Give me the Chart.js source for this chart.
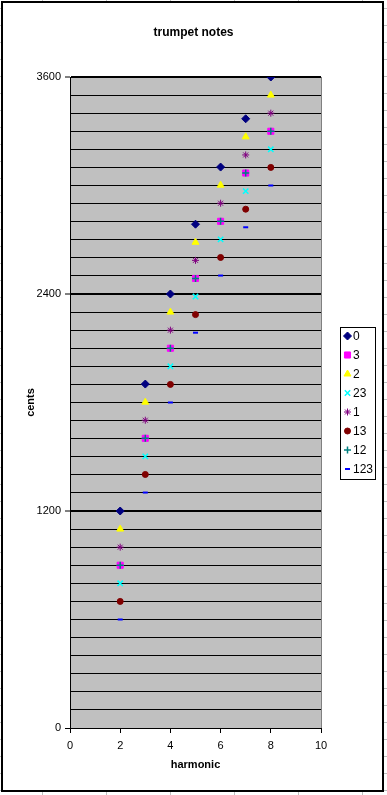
<!DOCTYPE html>
<html>
<head>
<meta charset="utf-8">
<script src="https://cdn.jsdelivr.net/npm/chart.js@4/dist/chart.umd.min.js"></script>
<style>
body { margin: 0; background: #fff; }
canvas { display: block; }
</style>
</head>
<body>
<canvas id="chart" width="387" height="795"></canvas>
<script>
// harmonic numbers on the x axis
const harmonics = [2, 3, 4, 5, 6, 7, 8];

// cents for each valve combination
const valveNames = ['0', '3', '2', '23', '1', '13', '12', '123'];
const cents0   = [1200, 1902, 2400, 2786, 3102, 3369, 3600];
const cents3   = [900, 1602, 2100, 2486, 2802, 3069, 3300];
const cents2   = [1100, 1802, 2300, 2686, 3002, 3269, 3500];
const cents23  = [800, 1502, 2000, 2386, 2702, 2969, 3200];
const cents1   = [1000, 1702, 2200, 2586, 2902, 3169, 3400];
const cents13  = [700, 1402, 1900, 2286, 2602, 2869, 3100];
const cents12  = [900, 1602, 2100, 2486, 2802, 3069, 3300];
const cents123 = [600, 1302, 1800, 2186, 2502, 2769, 3000];
const seriesValues = [cents0, cents3, cents2, cents23, cents1, cents13, cents12, cents123];

// y axis: labels every octave, grid every 100 cents
const yTicks = [0, 1200, 2400, 3600];
const xTicks = [0, 2, 4, 6, 8, 10];

// marker styles (Excel default scatter markers)
const markers = [
    { style: 'rectRot',  color: '#000080', radius: 4,   border: 1 },
    { style: 'rect',     color: '#FF00FF', radius: 4.3, border: 1 },
    { style: 'triangle', color: '#FFFF00', radius: 4,   border: 1 },
    { style: 'crossRot', color: '#00FFFF', radius: 3.8, border: 1.5 },
    { style: 'star',     color: '#800080', radius: 3.5, border: 1 },
    { style: 'circle',   color: '#800000', radius: 3,   border: 1 },
    { style: 'cross',    color: '#008080', radius: 3.5, border: 1.5 },
    { style: 'line',     color: '#0000FF', radius: 2.5, border: 2 }
];

const datasets = valveNames.map((name, i) => ({
    label: name,
    data: harmonics.map((h, j) => ({ x: h, y: seriesValues[i][j] })),
    pointStyle: markers[i].style,
    pointRadius: markers[i].radius,
    pointBackgroundColor: markers[i].color,
    pointBorderColor: markers[i].color,
    pointBorderWidth: markers[i].border,
    showLine: false,
    order: -i
}));

const FONT = 'Liberation Sans, Arial, sans-serif';

// page background, spreadsheet cells, chart border, gray plot area
const backgroundPlugin = {
    id: 'excelBackground',
    beforeDraw(chart) {
        const ctx = chart.ctx;
        const area = chart.chartArea;
        ctx.save();
        ctx.fillStyle = '#fff';
        ctx.fillRect(0, 0, chart.width, chart.height);
        ctx.strokeStyle = '#c0c0c0';
        ctx.lineWidth = 1;
        for (let x = 42.5; x < chart.width; x += 64) {
            ctx.beginPath(); ctx.moveTo(x, 0); ctx.lineTo(x, chart.height); ctx.stroke();
        }
        for (let y = 8.5; y < chart.height; y += 17) {
            ctx.beginPath(); ctx.moveTo(0, y); ctx.lineTo(chart.width, y); ctx.stroke();
        }
        ctx.fillStyle = '#fff';
        ctx.fillRect(1, 1, 382, 791);
        ctx.strokeStyle = '#000';
        ctx.lineWidth = 2;
        ctx.strokeRect(2, 2, 381, 789);
        ctx.fillStyle = '#c0c0c0';
        ctx.fillRect(area.left, area.top, area.right - area.left, area.bottom - area.top);
        ctx.restore();
    },
    beforeDatasetsDraw(chart) {
        const ctx = chart.ctx;
        const area = chart.chartArea;
        ctx.save();
        ctx.strokeStyle = '#808080';
        ctx.lineWidth = 1;
        ctx.beginPath();
        ctx.moveTo(Math.round(area.right) + 0.5, area.top);
        ctx.lineTo(Math.round(area.right) + 0.5, area.bottom);
        ctx.stroke();
        ctx.restore();
    }
};

// boxed legend on the right, like Excel's
const legendPlugin = {
    id: 'excelLegend',
    afterDraw(chart) {
        const ctx = chart.ctx;
        ctx.save();
        ctx.strokeStyle = '#000';
        ctx.lineWidth = 1;
        ctx.strokeRect(340.5, 327.5, 35, 152);
        ctx.font = '12px ' + FONT;
        ctx.textBaseline = 'middle';
        ctx.textAlign = 'left';
        chart.data.datasets.forEach((ds, i) => {
            const y = 336 + i * 19;
            ctx.fillStyle = ds.pointBackgroundColor;
            ctx.strokeStyle = ds.pointBorderColor;
            ctx.lineWidth = ds.pointBorderWidth;
            Chart.helpers.drawPoint(ctx, {
                pointStyle: ds.pointStyle,
                radius: ds.pointRadius,
                rotation: 0,
                borderWidth: ds.pointBorderWidth
            }, 347.5, y);
            ctx.fillStyle = '#000';
            ctx.fillText(ds.label, 353, y + 1);
        });
        ctx.restore();
    }
};

new Chart(document.getElementById('chart'), {
    type: 'scatter',
    data: { datasets: datasets },
    options: {
        responsive: false,
        animation: false,
        events: [],
        layout: { padding: 0 },
        plugins: {
            legend: { display: false },
            tooltip: { enabled: false },
            title: {
                display: true,
                text: 'trumpet notes',
                color: '#000',
                font: { family: FONT, size: 12, weight: 'bold' },
                padding: { top: 25, bottom: 37.6 }
            }
        },
        scales: {
            x: {
                type: 'linear',
                min: 0,
                max: 10,
                afterBuildTicks(scale) {
                    scale.ticks = xTicks.map(v => ({ value: v }));
                },
                afterFit(scale) { scale.height = 67; },
                ticks: {
                    color: '#000',
                    padding: 6,
                    maxRotation: 0,
                    font: { family: FONT, size: 11 }
                },
                grid: {
                    drawOnChartArea: false,
                    color: '#000',
                    tickColor: '#000',
                    tickLength: 5
                },
                border: { color: '#000', width: 1 },
                title: {
                    display: true,
                    text: 'harmonic',
                    color: '#000',
                    font: { family: FONT, size: 11, weight: 'bold' },
                    padding: { top: 0, bottom: 23 }
                }
            },
            y: {
                type: 'linear',
                position: 'left',
                min: 0,
                max: 3600,
                ticks: {
                    stepSize: 100,
                    autoSkip: false,
                    color: '#000',
                    padding: 4,
                    font: { family: FONT, size: 11 },
                    callback: v => (yTicks.includes(v) ? v : '')
                },
                afterFit(scale) { scale.width = 70; },
                grid: {
                    color: '#000',
                    lineWidth: ctx => (ctx.tick && ctx.tick.value > 0 && ctx.tick.value % 1200 === 0 ? 2 : 1),
                    tickColor: ctx => (ctx.tick && yTicks.includes(ctx.tick.value) ? '#000' : 'rgba(0,0,0,0)'),
                    tickWidth: 1,
                    tickLength: 5
                },
                border: { color: '#000', width: 1 },
                title: {
                    display: true,
                    text: 'cents',
                    color: '#000',
                    font: { family: FONT, size: 11, weight: 'bold' },
                    padding: { top: 24, bottom: 0 }
                }
            },
            // empty right-hand axis that only reserves room for the legend
            legendSpace: {
                type: 'linear',
                position: 'right',
                display: true,
                ticks: { display: false },
                grid: { display: false },
                border: { display: false },
                afterFit(scale) { scale.width = 66; }
            }
        }
    },
    plugins: [backgroundPlugin, legendPlugin]
});
</script>
</body>
</html>
